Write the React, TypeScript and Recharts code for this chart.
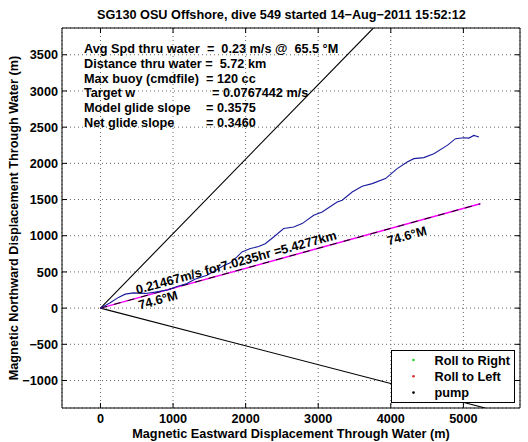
import React from 'react';
import {
  ComposedChart, Line, XAxis, YAxis, CartesianGrid, ReferenceArea, ReferenceDot, Legend,
} from 'recharts';

// ---------- data ----------
const xTicks = [0, 1000, 2000, 3000, 4000, 5000];
const yTicks = [-1000, -500, 0, 500, 1000, 1500, 2000, 2500, 3000, 3500];
const xDomain = [-530, 5780];
const yDomain = [-1380, 3870];

// glider track through water (blue)
const trackX = [0, 134, 248, 341, 455, 617, 754, 916, 1054, 1192, 1300, 1468, 1600, 1700, 1789, 1881, 1950, 2065, 2179, 2270, 2386, 2524, 2662, 2778, 2938, 3054, 3261, 3330, 3468, 3606, 3743, 3927, 4088, 4226, 4317, 4455, 4593, 4778, 4892, 5007, 5076, 5145, 5192, 5214];
const trackY = [0, 73, 148, 193, 211, 203, 221, 248, 300, 340, 400, 455, 530, 590, 625, 708, 777, 823, 850, 890, 983, 1099, 1121, 1168, 1283, 1328, 1466, 1490, 1604, 1683, 1720, 1789, 1927, 2018, 2065, 2079, 2134, 2248, 2341, 2354, 2349, 2386, 2372, 2363];

// net displacement line (74.6 °M, 5.4277 km)
const netX = [0, 5233];
const netY = [0, 1441];
// heading bound lines
const upperX = [0, 3760];
const upperY = [0, 3870];
const lowerX = [0, 5300];
const lowerY = [0, -1380];

const infoLabels = [
  'Avg Spd thru water  =  0.23 m/s @  65.5 °M',
  'Distance thru water =  5.72 km',
  'Max buoy (cmdfile)  = 120 cc',
  'Target w',
  'Model glide slope',
  'Net glide slope',
];
const infoValues = ['', '', '', '= 0.0767442 m/s', '= 0.3575', '= 0.3460'];

const legendItems = [
  { name: 'Roll to Right', color: '#2bd92b' },
  { name: 'Roll to Left', color: '#d92b2b' },
  { name: 'pump', color: '#000000' },
];

const title = 'SG130 OSU Offshore, dive 549 started 14\u2212Aug\u22122011 15:52:12';
const xLabel = 'Magnetic Eastward Displacement Through Water (m)';
const yLabel = 'Magnetic Northward Displacement Through Water (m)';
const netLabel = '0.21467m/s for7.0235hr =5.4277km';
const headingLabel = '74.6\u00b0M';

const zip = (xs: number[], ys: number[]) => xs.map((x, i) => ({ x, y: ys[i] }));
const track = zip(trackX, trackY);
const net = zip(netX, netY);
const upper = zip(upperX, upperY);
const lower = zip(lowerX, lowerY);

// ---------- layout ----------
const W = 528;
const H = 442;
const M = { top: 28, right: 8, left: 0, bottom: 0 };
const YAXIS_W = 62;
const XAXIS_H = 34;
const PL = M.left + YAXIS_W;
const PR = W - M.right;
const PT = M.top;
const PB = H - M.bottom - XAXIS_H;
const FONT = '"Liberation Sans", Arial, Helvetica, sans-serif';
const FS = 12.7;
const ROT = -15.4;

const fmt = (v: number) => String(v).replace('-', '\u2212');

const YTick = (p: any) => {
  const { x, y, payload } = p;
  return (
    <g>
      <text x={x} y={y} dy={4.6} textAnchor="end" fontFamily={FONT} fontSize={FS} fontWeight="bold" fill="#000">
        {fmt(payload.value)}
      </text>
      <line x1={PL} x2={PL + 5} y1={y} y2={y} stroke="#000" />
      <line x1={PR - 5} x2={PR} y1={y} y2={y} stroke="#000" />
    </g>
  );
};

const XTick = (p: any) => {
  const { x, y, payload } = p;
  return (
    <g>
      <text x={x} y={y} dy={10.5} textAnchor="middle" fontFamily={FONT} fontSize={FS} fontWeight="bold" fill="#000">
        {fmt(payload.value)}
      </text>
      <line x1={x} x2={x} y1={PB} y2={PB - 5} stroke="#000" />
      <line x1={x} x2={x} y1={PT} y2={PT + 5} stroke="#000" />
    </g>
  );
};

const rotText = (txt: string) => (p: any) => (
  <text
    x={p.cx}
    y={p.cy}
    transform={`rotate(${ROT} ${p.cx} ${p.cy})`}
    fontFamily={FONT}
    fontSize={FS}
    fontWeight="bold"
    fill="#000"
  >
    {txt}
  </text>
);

const LegendBox = () => (
  <svg width={124} height={53} style={{ display: 'block' }}>
    <rect x={0.5} y={0.5} width={123} height={52} fill="#fff" stroke="#000" />
    {legendItems.map((it, i) => (
      <g key={it.name}>
        <circle cx={22.5} cy={10 + i * 16.3} r={1.3} fill={it.color} />
        <text x={43.5} y={14.5 + i * 16.3} fontFamily={FONT} fontSize={FS} fontWeight="bold" fill="#000">
          {it.name}
        </text>
      </g>
    ))}
  </svg>
);

export default function App() {
  return (
    <div style={{ position: 'absolute', left: 0, top: 0, width: W, height: H, background: '#fff' }}>
      <ComposedChart width={W} height={H} margin={M}>
        <CartesianGrid stroke="#666" strokeDasharray="1 3" />
        <XAxis
          type="number"
          dataKey="x"
          domain={xDomain}
          ticks={xTicks}
          allowDataOverflow
          height={XAXIS_H}
          tickSize={0}
          tickMargin={4}
          axisLine={false}
          tickLine={false}
          tick={<XTick />}
          interval={0}
        />
        <YAxis
          type="number"
          dataKey="y"
          domain={yDomain}
          ticks={yTicks}
          allowDataOverflow
          width={YAXIS_W}
          tickSize={0}
          tickMargin={4}
          axisLine={false}
          tickLine={false}
          tick={<YTick />}
          interval={0}
        />
        <Line data={upper} dataKey="y" stroke="#000" strokeWidth={1.1} dot={false} isAnimationActive={false} legendType="none" />
        <Line data={lower} dataKey="y" stroke="#000" strokeWidth={1.1} dot={false} isAnimationActive={false} legendType="none" />
        <Line data={net} dataKey="y" stroke="#ff00ff" strokeWidth={1.5} dot={false} isAnimationActive={false} legendType="none" />
        <Line data={net} dataKey="y" stroke="#000" strokeWidth={1} strokeDasharray="7 7" dot={false} isAnimationActive={false} legendType="none" />
        <Line data={track} dataKey="y" stroke="#1a1a9e" strokeWidth={1.1} dot={false} isAnimationActive={false} legendType="none" />
        <ReferenceDot x={506} y={193} r={0} shape={rotText(netLabel)} />
        <ReferenceDot x={540} y={-20} r={0} shape={rotText(headingLabel)} />
        <ReferenceDot x={3968} y={869} r={0} shape={rotText(headingLabel)} />
        <ReferenceArea x1={xDomain[0]} x2={xDomain[1]} y1={yDomain[0]} y2={yDomain[1]} fill="none" stroke="#000" strokeWidth={1} ifOverflow="visible" />
        <Legend
          layout="vertical"
          align="center"
          verticalAlign="middle"
          content={<LegendBox />}
          wrapperStyle={{ left: 391, top: 350, width: 124, height: 53 }}
        />
      </ComposedChart>
      <svg
        width={W}
        height={H}
        style={{ position: 'absolute', left: 0, top: 0, pointerEvents: 'none' }}
      >
        <text x={97} y={18.5} fontFamily={FONT} fontSize={FS} fontWeight="bold" fill="#000">{title}</text>
        {infoLabels.map((t, i) => (
          <text key={i} x={84} y={53.3 + i * 14.65} fontFamily={FONT} fontSize={FS} fontWeight="bold" fill="#000" style={{ whiteSpace: 'pre' }}>
            {t}
          </text>
        ))}
        {infoValues.map((t, i) =>
          t ? (
            <text key={'v' + i} x={i === 3 ? 212 : 206} y={53.3 + i * 14.65} fontFamily={FONT} fontSize={FS} fontWeight="bold" fill="#000">
              {t}
            </text>
          ) : null,
        )}
        <text x={(PL + PR) / 2} y={438} textAnchor="middle" fontFamily={FONT} fontSize={FS} fontWeight="bold" fill="#000">{xLabel}</text>
        <text
          x={17.5}
          y={(PT + PB) / 2}
          textAnchor="middle"
          transform={`rotate(-90 17.5 ${(PT + PB) / 2})`}
          fontFamily={FONT}
          fontSize={FS}
          fontWeight="bold"
          fill="#000"
        >
          {yLabel}
        </text>
      </svg>
    </div>
  );
}
